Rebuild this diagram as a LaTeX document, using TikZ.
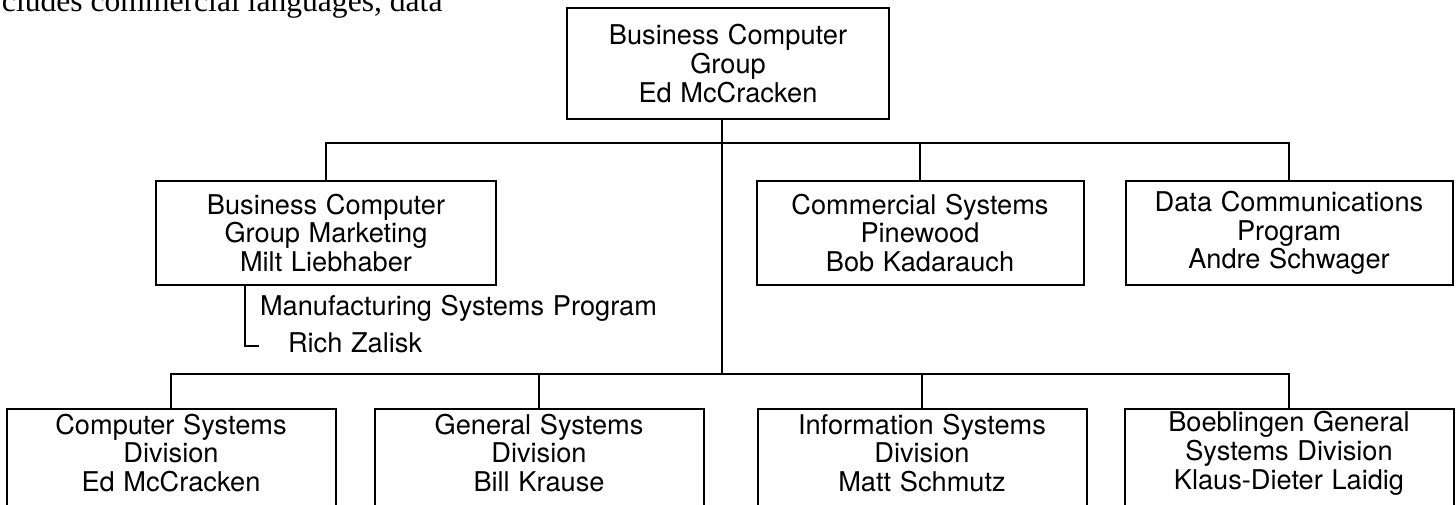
\documentclass[tikz,border=0pt]{standalone}
\usepackage{fontspec}
\setmainfont{TeX Gyre Heros}[WordSpace=1.15]
\newfontfamily\bodyserif{Liberation Serif}
\newcommand\orgfont{\fontsize{13.6}{14.4}\selectfont}
\begin{document}
\begin{tikzpicture}[x=0.5pt,y=-0.5pt,line width=1pt,
  orgbox/.style={draw,align=center,inner sep=0pt,font=\orgfont},
  unitbox/.style={orgbox,minimum width=163.5pt,minimum height=52pt},
  divtext/.style={align=center,inner sep=0pt,font=\orgfont,minimum width=163.5pt,minimum height=43pt},
  plain/.style={anchor=base west,inner sep=0pt,font=\orgfont}]
\useasboundingbox (0,0) rectangle (1456,504);
\clip (0,0) rectangle (1456,504);

% running text of the page above the chart
\node[anchor=base west,inner sep=0pt,font=\bodyserif\fontsize{15.8}{18}\selectfont] (para) at (1,11) {cludes commercial languages, data};

% group head
\node[orgbox,minimum width=161pt,minimum height=55.5pt] (bcg) at (728,63.5) {Business Computer\\Group\\Ed McCracken};

% staff units
\node[unitbox,minimum width=170pt] (mkt) at (326,233) {Business Computer\\Group Marketing\\Milt Liebhaber};
\node[unitbox] (com) at (920,233) {Commercial Systems\\Pinewood\\Bob Kadarauch};
\node[unitbox] (dcp) at (1289,233) {Data Communications\\Program\\Andre Schwager};

% program under marketing
\node[plain] (msp) at (259,315) {Manufacturing Systems Program};
\node[plain] (rz) at (287,352) {Rich Zalisk};

% divisions (boxes run off the lower edge)
\coordinate (floor) at (0,530);
\node[divtext] (csd) at (171,453) {Computer Systems\\Division\\Ed McCracken};
\node[divtext] (gsd) at (539,453) {General Systems\\Division\\Bill Krause};
\node[divtext] (isd) at (922,453) {Information Systems\\Division\\Matt Schmutz};
\node[divtext] (bgs) at (1289,453) {Boeblingen General\\Systems Division\\Klaus-Dieter Laidig};
\foreach \d in {csd,gsd,isd,bgs}
  \draw (\d.north west |- floor) -- (\d.north west) -- (\d.north east) -- (\d.north east |- floor);

% connectors
\coordinate (trunk) at (722,143);
\coordinate (hub) at (722,374);
\draw (bcg.south -| trunk) -- (hub);
\draw (mkt.north) |- (trunk) -| (dcp.north);
\draw (com.north) -- (com.north |- trunk);
\draw (csd.north) |- (hub) -| (bgs.north);
\draw (gsd.north) -- (gsd.north |- hub);
\draw (isd.north) -- (isd.north |- hub);
\coordinate (elbow) at (245,346);
\draw (mkt.south -| elbow) -- (elbow) -- (elbow -| msp.west);
\end{tikzpicture}
\end{document}
